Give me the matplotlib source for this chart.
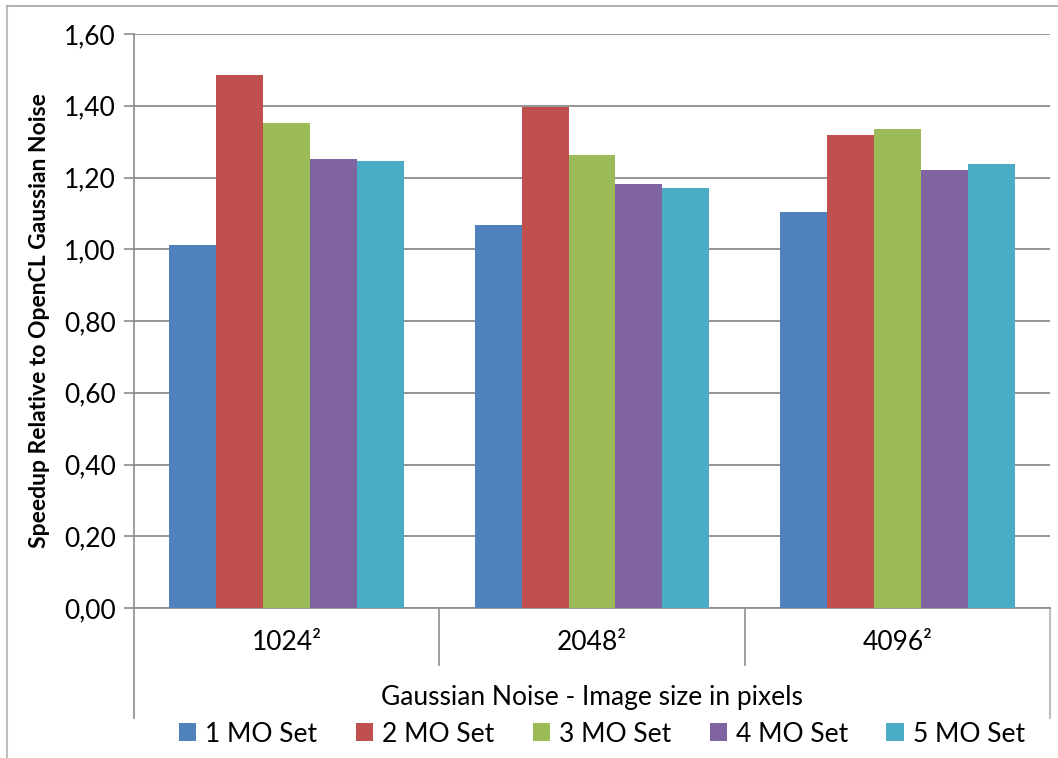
import numpy as np
import matplotlib
matplotlib.use('Agg')
import matplotlib.pyplot as plt
from matplotlib.lines import Line2D

plt.rcParams['font.family'] = ['Lato', 'DejaVu Sans']

categories = ['1024²', '2048²', '4096²']
series_names = ['1 MO Set', '2 MO Set', '3 MO Set', '4 MO Set', '5 MO Set']
mo1 = [1.012, 1.068, 1.105]
mo2 = [1.486, 1.397, 1.319]
mo3 = [1.352, 1.262, 1.334]
mo4 = [1.252, 1.183, 1.222]
mo5 = [1.245, 1.171, 1.237]
yticks = [0.0, 0.2, 0.4, 0.6, 0.8, 1.0, 1.2, 1.4, 1.6]
ytick_labels = ['0,00', '0,20', '0,40', '0,60', '0,80', '1,00', '1,20', '1,40', '1,60']

colors = ['#4F81BD', '#C0504D', '#9BBB59', '#8064A2', '#4BACC6']
grid_col = '#8c8c8c'

fig = plt.figure(figsize=(10.58, 7.58), dpi=100)
ax = fig.add_axes([134/1058, 1 - 608/758, (1050 - 134)/1058, (608 - 34)/758])

x = np.arange(len(categories))
w = 1 / 6.5
handles = []
for i, vals in enumerate([mo1, mo2, mo3, mo4, mo5]):
    b = ax.bar(x + (i - 2) * w, vals, width=w, color=colors[i], label=series_names[i], zorder=3)
    handles.append(b)

ax.set_xlim(-0.5, 2.5)
ax.set_ylim(0, 1.6)
ax.set_yticks(yticks)
ax.set_yticklabels(ytick_labels, fontsize=19)
ax.set_xticks([])
ax.yaxis.grid(True, color=grid_col, linewidth=1.3, zorder=0)
ax.tick_params(axis='y', direction='out', length=7, width=1.2, color=grid_col, pad=6)
for s in ['top', 'right']:
    ax.spines[s].set_visible(False)
ax.spines['left'].set_color(grid_col)
ax.spines['bottom'].set_color(grid_col)
ax.spines['left'].set_linewidth(1.2)
ax.spines['bottom'].set_linewidth(1.2)

ax.set_ylabel('Speedup Relative to OpenCL Gaussian Noise', fontsize=16.5, fontweight='bold', labelpad=10)

# category area lines below the axis
y_sep = -(665 - 608) / 574
y_end = -(718 - 608) / 574
for xs in [1/3, 2/3]:
    ax.plot([xs, xs], [0, y_sep], transform=ax.transAxes, color=grid_col, lw=1.2, clip_on=False)
ax.plot([0, 0], [0, y_end], transform=ax.transAxes, color=grid_col, lw=1.2, clip_on=False)
ax.plot([1, 1], [0, y_end], transform=ax.transAxes, color='#bfbfbf', lw=1.5, clip_on=False)

for i, c in enumerate(categories):
    ax.text((i + 0.5) / 3, -(642 - 608) / 574, c, transform=ax.transAxes,
            ha='center', va='center', fontsize=19)
ax.text(0.5, -(697 - 608) / 574, 'Gaussian Noise - Image size in pixels', transform=ax.transAxes,
        ha='center', va='center', fontsize=19)

fig.legend(handles=handles, labels=series_names, loc='center', bbox_to_anchor=(0.569, 1 - 734/758),
           ncol=5, frameon=False, fontsize=19, handlelength=0.65, handleheight=0.65,
           handletextpad=0.35, columnspacing=1.45)

# outer chart border
fig.add_artist(Line2D([7/1058, 7/1058], [0, 1 - 6/758], color='#bfbfbf', lw=1.5))
fig.add_artist(Line2D([7/1058, 1], [1 - 6/758, 1 - 6/758], color='#a6a6a6', lw=1.2))

fig.savefig('out.png', dpi=100)
